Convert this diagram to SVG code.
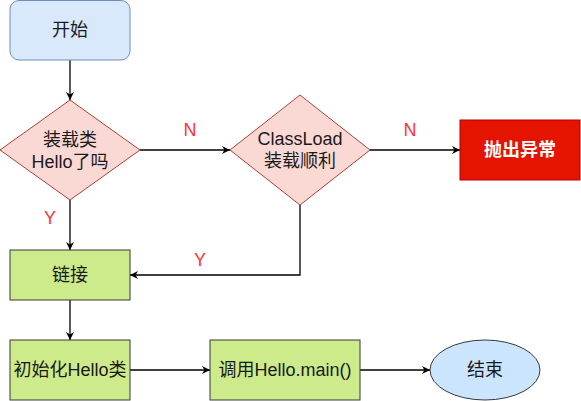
<svg xmlns="http://www.w3.org/2000/svg" width="581" height="401" viewBox="0 0 581 401">
<style>
text{font-family:"Liberation Sans","Noto Sans CJK SC",sans-serif;font-size:18px;fill:#1a1a1a;text-anchor:middle;dominant-baseline:central}
.lbl{fill:#ff3333;font-size:18px}
.dia{fill:#fad9d5;stroke:#ae4132;stroke-width:1}
.grn{fill:#cdeb8b;stroke:#36393d;stroke-width:1}
.edge{fill:none;stroke:#000;stroke-width:1.3;marker-end:url(#arr)}
</style>
<defs>
<marker id="arr" viewBox="0 0 10 10" refX="10" refY="5" markerWidth="9" markerHeight="8" markerUnits="userSpaceOnUse" orient="auto">
<path d="M0,0 L10,5 L0,10 L3,5 Z" fill="#000"/>
</marker>
</defs>
<g id="connectors">
<path class="edge" d="M70,60 L70,100"/>
<path class="edge" d="M140,150 L230,150"/>
<path class="edge" d="M370,150 L460,150"/>
<path class="edge" d="M70,200 L70,250"/>
<path class="edge" d="M300,205 L300,275 L130,275"/>
<path class="edge" d="M70,300 L70,340"/>
<path class="edge" d="M130,370 L210,370"/>
<path class="edge" d="M360,370 L430,370"/>
<text class="lbl" x="190" y="130">N</text>
<text class="lbl" x="410" y="130">N</text>
<text class="lbl" x="50" y="218">Y</text>
<text class="lbl" x="200" y="260">Y</text>
</g>
<g id="start">
<rect x="10" y="0.5" width="120" height="59.5" rx="9" fill="#dae8fc" stroke="#6c8ebf"/>
<text x="70" y="30">开始</text>
</g>
<g id="loaded">
<polygon class="dia" points="70,100 140,150 70,200 0,150"/>
<text x="70" y="140">装载类</text>
<text x="70" y="162">Hello了吗</text>
</g>
<g id="classload">
<polygon class="dia" points="300,95 370,150 300,205 230,150"/>
<text x="300" y="139">ClassLoad</text>
<text x="300" y="161">装载顺利</text>
</g>
<g id="throw">
<rect x="460" y="120" width="120" height="60" fill="#e51400" stroke="#b20000"/>
<text x="520" y="150" style="fill:#fff;font-weight:bold">抛出异常</text>
</g>
<g id="link">
<rect class="grn" x="10" y="250" width="120" height="50"/>
<text x="70" y="275">链接</text>
</g>
<g id="init">
<rect class="grn" x="10" y="340" width="120" height="60"/>
<text x="70" y="370">初始化Hello类</text>
</g>
<g id="main">
<rect class="grn" x="210" y="340" width="150" height="60"/>
<text x="285" y="370">调用Hello.main()</text>
</g>
<g id="end">
<ellipse cx="485" cy="370" rx="55" ry="30" fill="#cce5ff" stroke="#36393d"/>
<text x="485" y="370">结束</text>
</g>
</svg>
